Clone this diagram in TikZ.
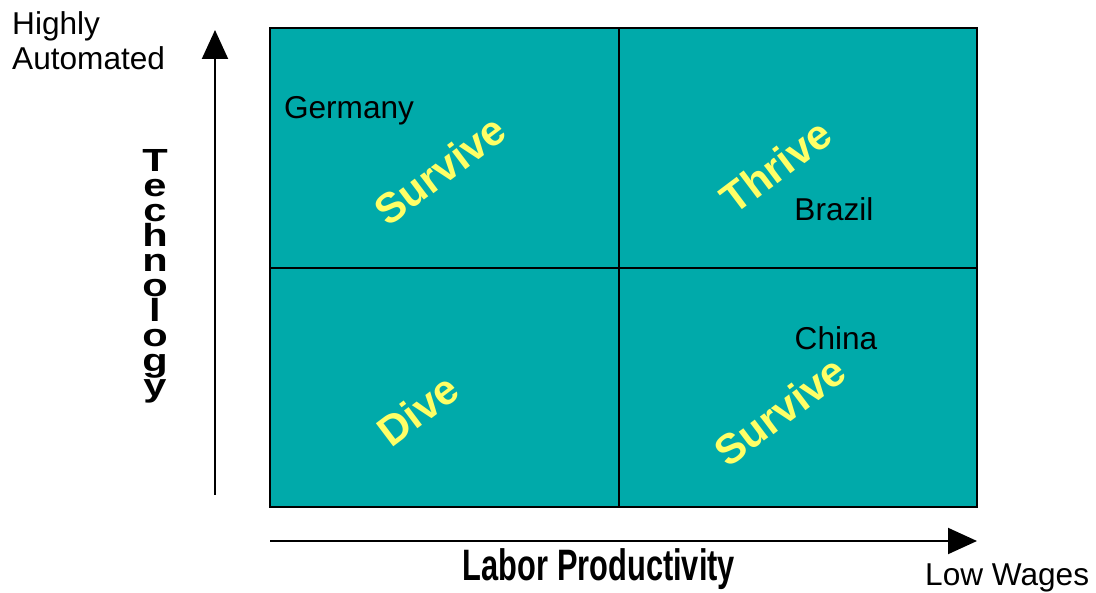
\documentclass[tikz,border=0pt]{standalone}
\usepackage{fontspec}
\setmainfont{Liberation Sans}
\usetikzlibrary{arrows.meta}
\definecolor{cellteal}{RGB}{0,170,170}
\definecolor{tagyellow}{RGB}{255,255,102}
\begin{document}
\begin{tikzpicture}[x=1pt,y=-1pt,
  label/.style={inner sep=0pt,font=\fontsize{31.6}{35}\selectfont},
  verdict/.style={inner sep=0pt,text=tagyellow,rotate=37,
    font=\fontsize{42}{44}\selectfont\bfseries},
  axis/.style={line width=2pt,-{Triangle[length=29pt,width=26pt]}},
  grid/.style={draw=black,line width=1.6pt}]
\useasboundingbox (0,0) rectangle (1096,593);

% quadrant grid
\fill[cellteal] (270,28) rectangle (977,507);
\draw[grid] (270,28) rectangle (977,507);
\draw[grid] (619,28) -- (619,507);
\draw[grid] (270,268) -- (977,268);

% axes
\coordinate (ybot) at (215,495);
\coordinate (ytop) at (215,30);
\coordinate (xleft) at (270,541);
\coordinate (xright) at (977,541);
\draw[axis] (ybot) -- (ytop);
\draw[axis] (xleft) -- (xright);

% axis labels
\node[label,anchor=base west,align=left] (auto) at (12,70) {Highly\\Automated};
\node[label,anchor=base west] (wages) at (925,586) {Low Wages};
\node[inner sep=0pt,anchor=base,xscale=0.7,
  font=\fontsize{44}{44}\selectfont\bfseries] (labor) at (599,580) {Labor Productivity};
\node[inner sep=0pt,align=center,xscale=1.3,
  font=\fontsize{32}{25}\selectfont\bfseries] (tech) at (155,276)
  {T\\e\\c\\h\\n\\o\\l\\o\\g\\y};

% countries
\node[label] (germany) at (349,111) {Germany};
\node[label] (brazil) at (834,209) {Brazil};
\node[label] (china) at (836,338) {China};

% quadrant verdicts
\node[verdict] (survtl) at (440,170) {Survive};
\node[verdict] (thrive) at (776,166) {Thrive};
\node[verdict] (dive) at (418,410) {Dive};
\node[verdict] (survbr) at (780,411) {Survive};
\end{tikzpicture}
\end{document}
